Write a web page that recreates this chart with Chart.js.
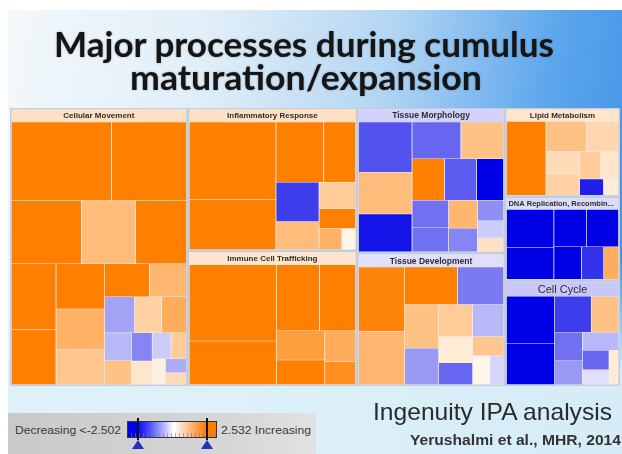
<!DOCTYPE html>
<html>
<head>
<meta charset="utf-8">
<script src="https://cdn.jsdelivr.net/npm/chart.js@4.4.1/dist/chart.umd.min.js"></script>
<style>
  html, body { margin: 0; padding: 0; background: #fff; }
  #slide {
    position: absolute; left: 8px; top: 10px; width: 614px; height: 444px;
    background:
      linear-gradient(to bottom, rgba(222,241,248,0) 0%, rgba(222,241,248,0) 55%, rgba(222,241,248,0.95) 82%),
      linear-gradient(100deg, #f3f8fb 0%, #e0eef8 30%, #b4d6f3 56%, #5ca6ec 80%, #3a8fe6 100%);
  }
  canvas { position: absolute; left: 0; top: 0; }
  .t { position: absolute; white-space: nowrap; line-height: 1; transform-origin: 0 0; }
  .title { font-family: Lato, sans-serif; font-weight: 700; font-size: 34px; color: #151515;
           text-shadow: 0 0 2px rgba(0,0,0,0.35); }
  #legendBox { position: absolute; left: 8px; top: 413px; width: 308px; height: 41px;
               background: linear-gradient(to right, #c9c9c9, #d6d6d6 70%, #e2e2e2); }
  #bar { position: absolute; left: 127px; top: 421px; width: 90px; height: 17px; box-sizing: border-box;
         border: 1px solid #334;
         background:
           repeating-linear-gradient(to right, rgba(255,255,255,0) 0 3px, rgba(120,120,160,0.6) 3px 4px) bottom / 100% 4px no-repeat,
           linear-gradient(to right, #0000f0 0%, #0000f0 10%, #5050ff 25%, #ffffff 52%, #ffb57a 72%, #ff8000 88%, #ff8000 100%); }
  .mark { position: absolute; top: 418px; width: 2px; height: 22px; background: #111; }
  .tri { position: absolute; top: 440px; width: 0; height: 0;
         border-left: 6px solid transparent; border-right: 6px solid transparent; border-bottom: 9px solid #2233c0; }
  .leg { font-family: "Liberation Sans", Arial, sans-serif; font-size: 10.5px; color: #3a3a3a; }
</style>
</head>
<body>
<div id="slide"></div>
<canvas id="chart" width="622" height="454"></canvas>

<div class="t title" id="title1" style="left:54px; top:27px;">Major processes during cumulus</div>
<div class="t title" id="title2" style="left:130px; top:60px;">maturation/expansion</div>

<div id="legendBox"></div>
<div class="t leg" id="legLeft" style="left:15px; top:425px;">Decreasing &lt;-2.502</div>
<div id="bar"></div>
<div class="mark" style="left:137px;"></div>
<div class="mark" style="left:206px;"></div>
<div class="tri" style="left:132px;"></div>
<div class="tri" style="left:201px;"></div>
<div class="t leg" id="legRight" style="left:221px; top:425px;">2.532 Increasing</div>

<div class="t" id="ipa" style="left:373px; top:400px; font-family:'Liberation Sans',Arial,sans-serif; font-size:24px; color:#2b2b2b;">Ingenuity IPA analysis</div>
<div class="t" id="ref" style="left:410px; top:433px; font-family:'Liberation Sans',Arial,sans-serif; font-weight:700; font-size:14px; color:#333;">Yerushalmi et al., MHR, 2014</div>

<script>
// functions (top level boxes of the IPA treemap)
const panelLabels = ['Cellular Movement', 'Inflammatory Response', 'Immune Cell Trafficking',
  'Tissue Morphology', 'Tissue Development', 'Lipid Metabolism',
  'DNA Replication, Recombination, and Repair', 'Cell Cycle'];
const panelSizes = [49, 24, 22.7, 21.3, 19.5, 10.1, 9.6, 12];
const panelZ = [0.6, 0.6, 0.5, -0.45, -0.3, 0.5, -0.35, -0.55];
const panelColumn = [0, 1, 1, 2, 2, 3, 3, 3];

// sub-functions inside each box: size and activation z-score
const cellularMovementSizes = [16, 12, 9, 7, 6.5, 6, 5, 4.5, 4, 3.5, 3, 2.5, 2.2, 2, 1.8, 1.5, 1.3, 1.2, 1, 1, 0.8, 0.7, 0.6, 0.5];
const cellularMovementZ     = [3.2, 3.4, 3.0, 1.3, 2.9, 3.1, 3.0, 2.6, 1.5, 1.1, 3.0, 1.4, -0.9, 0.9, 1.6, -0.7, 1.2, -1.2, 0.5, -0.5, 1.0, 0.3, -0.8, 0.7];
const inflammatorySizes = [14, 9, 6, 4, 3.5, 2.5, 2, 1.5, 1, 0.6];
const inflammatoryZ     = [3.3, 3.1, 3.4, 3.0, -1.9, 1.3, 1.0, 2.8, 1.5, 0.2];
const immuneSizes = [14, 8, 6, 5, 3, 2.5, 2, 1.5];
const immuneZ     = [3.4, 3.2, 3.0, 2.6, 1.9, 3.1, 1.6, 2.2];
const morphologySizes = [6, 5, 4.5, 4, 3.5, 3, 3, 2.5, 2.2, 2, 1.8, 1.5, 1.2, 1, 0.8];
const morphologyZ     = [-1.7, 1.3, -2.3, -1.5, 1.2, 3.0, -1.6, -2.6, -1.4, -1.4, 1.4, -1.2, -1.1, -0.5, 0.6];
const developmentSizes = [6, 5, 4, 3.5, 3, 2.5, 2.2, 2, 1.8, 1.5, 1.2, 1, 0.8];
const developmentZ     = [2.4, 1.4, 3.0, -1.3, 1.2, -1.0, 1.0, -0.7, 0.4, -1.5, 1.1, 0.2, -0.4];
const lipidSizes = [6, 2.5, 2, 1.5, 1.5, 1.2, 1, 0.8, 0.5];
const lipidZ     = [3.1, 1.2, 0.8, 0.7, 0.9, 1.0, 0.5, -2.2, 0.4];
const dnaSizes = [3, 2.5, 2, 2, 1.5, 1.2, 0.8];
const dnaZ     = [-3.2, -3.0, -3.1, -2.8, -2.9, -2.0, 1.6];
const cellCycleSizes = [3.5, 3, 2, 1.5, 1.2, 1, 1, 0.8, 0.6, 0.5];
const cellCycleZ     = [-3.0, -2.9, -1.9, 1.2, -1.4, -1.0, -0.7, -1.5, -0.3, 0.4];

const cellSizes = [cellularMovementSizes, inflammatorySizes, immuneSizes, morphologySizes,
  developmentSizes, lipidSizes, dnaSizes, cellCycleSizes];
const cellZ = [cellularMovementZ, inflammatoryZ, immuneZ, morphologyZ,
  developmentZ, lipidZ, dnaZ, cellCycleZ];

const W = 610, H = 278;   // axis ranges
const headerH = [12.5, 12.5, 12.5, 12.5, 12.5, 12, 11.5, 14];
const headerFont = ['bold 8px', 'bold 8px', 'bold 8px', 'bold 8.5px', 'bold 8.5px', 'bold 8px', 'bold 7.5px', '11px'];

function zColor(z) {
  const t = Math.max(-1, Math.min(1, z / 2.5));
  const white = [255, 255, 255], orange = [255, 127, 0], blue = [0, 0, 230];
  const c = t >= 0 ? orange : blue;
  const a = Math.abs(t);
  const rgb = white.map((w, k) => Math.round(w + (c[k] - w) * a));
  return `rgb(${rgb.join(',')})`;
}

function worst(row, side) {
  const s = row.reduce((a, b) => a + b, 0);
  const mx = Math.max(...row), mn = Math.min(...row);
  return Math.max(side * side * mx / (s * s), (s * s) / (side * side * mn));
}

// squarified treemap layout
function squarify(values, rect) {
  const total = values.reduce((a, b) => a + b, 0);
  const areas = values.map(v => v * rect.w * rect.h / total);
  let { x, y, w, h } = rect;
  const out = [];
  let row = [];
  const layoutRow = () => {
    const s = row.reduce((a, b) => a + b, 0);
    if (w >= h) {
      const t = s / h; let yy = y;
      row.forEach(a => { const hh = a / t; out.push({ x, y: yy, w: t, h: hh }); yy += hh; });
      x += t; w -= t;
    } else {
      const t = s / w; let xx = x;
      row.forEach(a => { const ww = a / t; out.push({ x: xx, y, w: ww, h: t }); xx += ww; });
      y += t; h -= t;
    }
    row = [];
  };
  let i = 0;
  while (i < areas.length) {
    const side = Math.min(w, h);
    if (row.length === 0 || worst([...row, areas[i]], side) <= worst(row, side)) {
      row.push(areas[i]); i++;
    } else {
      layoutRow();
    }
  }
  if (row.length) layoutRow();
  return out;
}

// a rectangle = flat line at the bottom edge, filled up to the top edge
function rectDataset(r, color, order) {
  return {
    data: [{ x: r.x, y: r.y + r.h }, { x: r.x + r.w, y: r.y + r.h }],
    showLine: true,
    fill: { value: r.y },
    backgroundColor: color,
    borderWidth: 0,
    pointRadius: 0,
    order
  };
}

const datasets = [];
const headers = [];
datasets.push(rectDataset({ x: 0, y: 0, w: W, h: H }, '#c3cedc', 4));

const totalSize = panelSizes.reduce((a, b) => a + b, 0);
const columns = [...new Set(panelColumn)];
let cx = 0;
columns.forEach(col => {
  const idx = panelSizes.map((s, i) => i).filter(i => panelColumn[i] === col);
  const colSum = idx.reduce((a, i) => a + panelSizes[i], 0);
  const cw = W * colSum / totalSize;
  let cy = 0;
  idx.forEach(i => {
    const ph = H * panelSizes[i] / colSum;
    const g = 1.4;
    const p = { x: cx + g, y: cy + g, w: cw - 2 * g, h: ph - 2 * g };
    datasets.push(rectDataset(p, '#eceff4', 3));
    const hd = { x: p.x, y: p.y, w: p.w, h: headerH[i], label: panelLabels[i], font: headerFont[i] };
    headers.push(hd);
    datasets.push(rectDataset(hd, zColor(panelZ[i]), 2));
    const content = { x: p.x, y: p.y + headerH[i], w: p.w, h: p.h - headerH[i] };
    squarify(cellSizes[i], content).forEach((r, k) => {
      const inset = 0.25;
      datasets.push(rectDataset({ x: r.x + inset, y: r.y + inset, w: r.w - 2 * inset, h: r.h - 2 * inset },
        zColor(cellZ[i][k]), 1));
    });
    cy += ph;
  });
  cx += cw;
});

const headerLabels = {
  id: 'headerLabels',
  afterDatasetsDraw(chart) {
    const { ctx, scales: { x, y } } = chart;
    ctx.save();
    ctx.fillStyle = '#2e2e2e';
    ctx.textBaseline = 'middle';
    headers.forEach(hd => {
      const x0 = x.getPixelForValue(hd.x), x1 = x.getPixelForValue(hd.x + hd.w);
      const yc = (y.getPixelForValue(hd.y) + y.getPixelForValue(hd.y + hd.h)) / 2 + 0.5;
      ctx.font = `${hd.font} "Liberation Sans", Arial, sans-serif`;
      let text = hd.label;
      const room = x1 - x0 - 4;
      if (ctx.measureText(text).width <= room) {
        ctx.textAlign = 'center';
        ctx.fillText(text, (x0 + x1) / 2, yc);
      } else {
        while (text.length > 1 && ctx.measureText(text + '...').width > room) text = text.slice(0, -1);
        ctx.textAlign = 'left';
        ctx.fillText(text + '...', x0 + 2, yc);
      }
    });
    ctx.restore();
  }
};

new Chart(document.getElementById('chart'), {
  type: 'scatter',
  data: { datasets },
  options: {
    responsive: false,
    animation: false,
    events: [],
    layout: { padding: { left: 10, right: 2, top: 108, bottom: 68 } },
    scales: {
      x: { type: 'linear', min: 0, max: W, display: false },
      y: { type: 'linear', min: 0, max: H, reverse: true, display: false }
    },
    plugins: { legend: { display: false }, tooltip: { enabled: false } }
  },
  plugins: [headerLabels]
});

// stretch the slide texts to the widths they have in the picture
function fit(id, width) {
  const el = document.getElementById(id);
  el.style.transform = `scaleX(${width / el.getBoundingClientRect().width})`;
}
fit('title1', 500);
fit('title2', 352);
fit('ipa', 239);
fit('ref', 211);
fit('legLeft', 106);
fit('legRight', 90);
</script>
</body>
</html>
